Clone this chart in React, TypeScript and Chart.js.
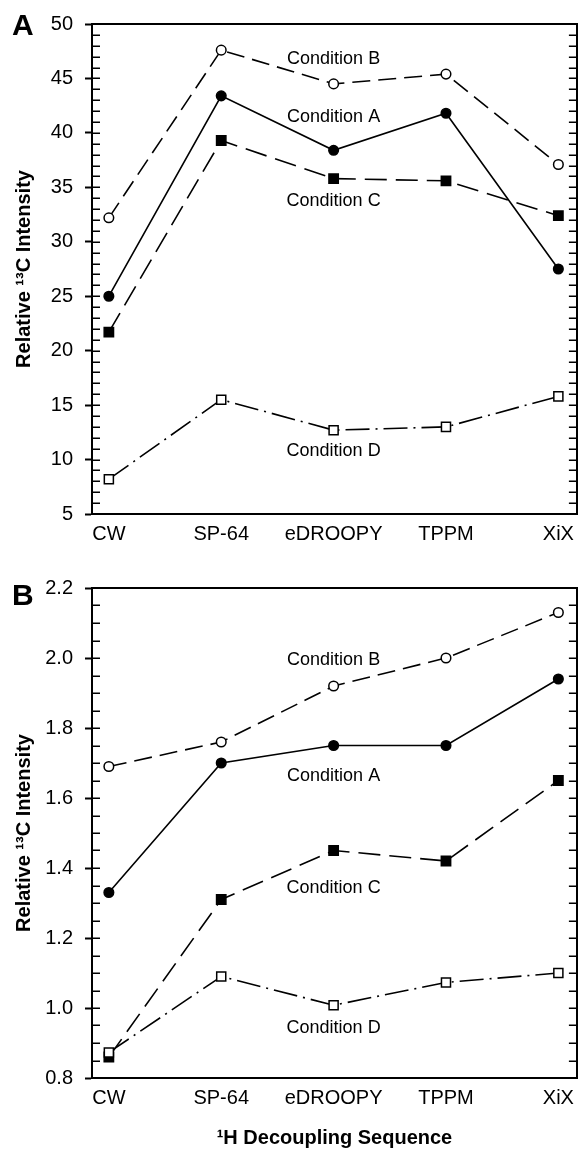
import React, { useEffect, useRef } from "react";
import { Chart, registerables } from "chart.js";

Chart.register(...registerables);

// ---------- data ----------
const categories = ["CW", "SP-64", "eDROOPY", "TPPM", "XiX"];

const panelA_conditionA = [25.0, 43.4, 38.4, 41.8, 27.5];
const panelA_conditionB = [32.2, 47.6, 44.5, 45.4, 37.1];
const panelA_conditionC = [21.7, 39.3, 35.8, 35.6, 32.4];
const panelA_conditionD = [8.2, 15.5, 12.7, 13.0, 15.8];

const panelB_conditionA = [1.33, 1.7, 1.75, 1.75, 1.94];
const panelB_conditionB = [1.69, 1.76, 1.92, 2.0, 2.13];
const panelB_conditionC = [0.86, 1.31, 1.45, 1.42, 1.65];
const panelB_conditionD = [0.873, 1.09, 1.008, 1.073, 1.1];

const panelA_yTicks = [5, 10, 15, 20, 25, 30, 35, 40, 45, 50];
const panelB_yTicks = [0.8, 1.0, 1.2, 1.4, 1.6, 1.8, 2.0, 2.2];

// in-plot series labels (category index, value)
const panelA_seriesLabels = [
  { text: "Condition B", x: 2.0, y: 46.8 },
  { text: "Condition A", x: 2.0, y: 41.5 },
  { text: "Condition C", x: 2.0, y: 33.7 },
  { text: "Condition D", x: 2.0, y: 10.75 },
];
const panelB_seriesLabels = [
  { text: "Condition B", x: 2.0, y: 1.994 },
  { text: "Condition A", x: 2.0, y: 1.663 },
  { text: "Condition C", x: 2.0, y: 1.343 },
  { text: "Condition D", x: 2.0, y: 0.943 },
];

const yTitle = "Relative \u00B9\u00B3C Intensity";
const xTitle = "\u00B9H Decoupling Sequence";

// ---------- styling ----------
const FONT = "Arial, 'Liberation Sans', Helvetica, sans-serif";
const BLACK = "#000";

function pts(arr: number[]) {
  return arr.map((v, i) => ({ x: i, y: v }));
}

function buildDatasets(a: number[], b: number[], c: number[], d: number[]) {
  const common = {
    borderColor: BLACK,
    borderWidth: 1.6,
    tension: 0,
    pointBorderColor: BLACK,
    pointBorderWidth: 1.5,
    pointHoverRadius: 0,
    fill: false,
  };
  return [
    {
      ...common,
      label: "Condition A",
      data: pts(a),
      pointStyle: "circle",
      pointRadius: 4.8,
      pointBackgroundColor: BLACK,
      backgroundColor: BLACK,
      order: 2,
    },
    {
      ...common,
      label: "Condition B",
      data: pts(b),
      borderDash: [18, 8],
      pointStyle: "circle",
      pointRadius: 4.8,
      pointBackgroundColor: "#fff",
      backgroundColor: "#fff",
      order: 1,
    },
    {
      ...common,
      label: "Condition C",
      data: pts(c),
      borderDash: [22, 9],
      pointStyle: "rect",
      pointRadius: 6.6,
      pointBackgroundColor: BLACK,
      backgroundColor: BLACK,
      order: 4,
    },
    {
      ...common,
      label: "Condition D",
      data: pts(d),
      borderDash: [24, 6, 2, 6],
      pointStyle: "rect",
      pointRadius: 6.4,
      pointBackgroundColor: "#fff",
      backgroundColor: "#fff",
      order: 3,
    },
  ];
}

type PanelOpts = {
  letter: string;
  letterBaseline: number;
  series: [number[], number[], number[], number[]];
  yTicks: number[];
  minorStep: number;
  decimals: number;
  labels: { text: string; x: number; y: number }[];
  padTop: number;
  xAxisHeight: number;
  showXTitle: boolean;
};

function makeConfig(p: PanelOpts): any {
  const yMin = p.yTicks[0];
  const yMax = p.yTicks[p.yTicks.length - 1];
  const xMin = -0.15;
  const xMax = categories.length - 1 + 0.165;

  const decorPlugin = {
    id: "decor",
    afterDraw(chart: any) {
      const ctx = chart.ctx;
      const area = chart.chartArea;
      const y = chart.scales.y;
      const x = chart.scales.x;
      ctx.save();
      // inward minor/major ticks on left and right axes
      ctx.strokeStyle = BLACK;
      ctx.lineWidth = 1.5;
      const n = Math.round((yMax - yMin) / p.minorStep);
      for (let i = 1; i < n; i++) {
        const v = yMin + i * p.minorStep;
        const py = Math.round(y.getPixelForValue(v)) + 0.25;
        ctx.beginPath();
        ctx.moveTo(area.left, py);
        ctx.lineTo(area.left + 8, py);
        ctx.moveTo(area.right - 8, py);
        ctx.lineTo(area.right, py);
        ctx.stroke();
      }
      // series labels
      ctx.fillStyle = BLACK;
      ctx.font = `18px ${FONT}`;
      ctx.textAlign = "center";
      ctx.textBaseline = "middle";
      for (const l of p.labels) {
        ctx.fillText(l.text, x.getPixelForValue(l.x), y.getPixelForValue(l.y));
      }
      // panel letter
      ctx.font = `bold 30px ${FONT}`;
      ctx.textAlign = "left";
      ctx.textBaseline = "alphabetic";
      ctx.fillText(p.letter, 12, p.letterBaseline);
      ctx.restore();
    },
  };

  const borderOpts = { display: true, color: BLACK, width: 2 };

  return {
    type: "line",
    data: {
      datasets: buildDatasets(...p.series),
    },
    options: {
      responsive: false,
      maintainAspectRatio: false,
      animation: false,
      events: [],
      layout: { padding: { top: p.padTop, right: 1, left: 0, bottom: 0 } },
      plugins: {
        legend: { display: false },
        tooltip: { enabled: false },
        title: { display: false },
      },
      scales: {
        x: {
          type: "linear",
          position: "bottom",
          min: xMin,
          max: xMax,
          afterBuildTicks: (s: any) => {
            s.ticks = categories.map((_, i) => ({ value: i }));
          },
          ticks: {
            callback: (v: number) => categories[v] ?? "",
            font: { family: FONT, size: 20 },
            color: BLACK,
            padding: 8,
            maxRotation: 0,
            autoSkip: false,
          },
          grid: { display: false, drawTicks: false },
          border: borderOpts,
          title: p.showXTitle
            ? {
                display: true,
                text: xTitle,
                font: { family: FONT, size: 20, weight: "bold" },
                color: BLACK,
                padding: { top: 0, bottom: 3 },
              }
            : { display: false },
          afterFit: (s: any) => {
            s.height = p.xAxisHeight;
          },
        },
        xTop: {
          type: "linear",
          position: "top",
          min: xMin,
          max: xMax,
          ticks: { display: false },
          grid: { display: false, drawTicks: false },
          border: borderOpts,
          afterFit: (s: any) => {
            s.height = 0;
          },
        },
        y: {
          type: "linear",
          position: "left",
          min: yMin,
          max: yMax,
          afterBuildTicks: (s: any) => {
            s.ticks = p.yTicks.map((v) => ({ value: v }));
          },
          ticks: {
            callback: (v: number) => Number(v).toFixed(p.decimals),
            font: { family: FONT, size: 20 },
            color: BLACK,
            padding: 12,
            autoSkip: false,
          },
          grid: {
            display: true,
            drawOnChartArea: false,
            drawTicks: true,
            tickLength: 7,
            tickWidth: 2,
            tickColor: BLACK,
            color: BLACK,
          },
          border: borderOpts,
          title: {
            display: true,
            text: yTitle,
            font: { family: FONT, size: 20, weight: "bold" },
            color: BLACK,
            padding: { top: 12, bottom: 0 },
          },
          afterFit: (s: any) => {
            s.width = 92;
          },
        },
        yRight: {
          type: "linear",
          position: "right",
          min: yMin,
          max: yMax,
          ticks: { display: false },
          grid: { display: false, drawTicks: false },
          border: borderOpts,
          afterFit: (s: any) => {
            s.width = 0;
          },
        },
      },
    },
    plugins: [decorPlugin],
  };
}

function PanelChart({ opts, top, height }: { opts: PanelOpts; top: number; height: number }) {
  const ref = useRef<HTMLCanvasElement>(null);
  useEffect(() => {
    if (!ref.current) return;
    const chart = new Chart(ref.current, makeConfig(opts));
    return () => chart.destroy();
  }, []);
  return (
    <canvas
      ref={ref}
      width={585}
      height={height}
      style={{ position: "absolute", left: 0, top, width: 585, height, display: "block" }}
    />
  );
}

export default function App() {
  const panelA: PanelOpts = {
    letter: "A",
    letterBaseline: 35,
    series: [panelA_conditionA, panelA_conditionB, panelA_conditionC, panelA_conditionD],
    yTicks: panelA_yTicks,
    minorStep: 1,
    decimals: 0,
    labels: panelA_seriesLabels,
    padTop: 22,
    xAxisHeight: 46,
    showXTitle: false,
  };
  const panelB: PanelOpts = {
    letter: "B",
    letterBaseline: 45,
    series: [panelB_conditionA, panelB_conditionB, panelB_conditionC, panelB_conditionD],
    yTicks: panelB_yTicks,
    minorStep: 0.05,
    decimals: 1,
    labels: panelB_seriesLabels,
    padTop: 28,
    xAxisHeight: 75,
    showXTitle: true,
  };
  return (
    <div
      style={{
        position: "absolute",
        left: 0,
        top: 0,
        width: 585,
        height: 1153,
        background: "#fff",
        overflow: "hidden",
      }}
    >
      <PanelChart opts={panelA} top={0} height={560} />
      <PanelChart opts={panelB} top={560} height={593} />
    </div>
  );
}
